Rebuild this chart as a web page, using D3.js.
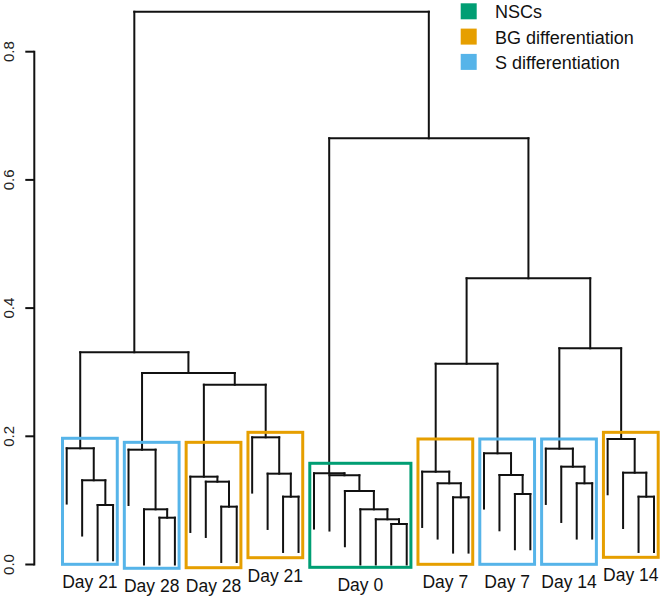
<!DOCTYPE html>
<html>
<head>
<meta charset="utf-8">
<script src="https://cdn.jsdelivr.net/npm/d3@7"></script>
<style>
  html, body { margin: 0; padding: 0; background: #fff; }
  svg { display: block; font-family: "Liberation Sans", Arial, Helvetica, sans-serif; }
</style>
</head>
<body>
<svg id="chart" width="660" height="602"></svg>
<script>
// ---------------- DATA ----------------
const groupLabels = ["Day 21", "Day 28", "Day 28", "Day 21", "Day 0", "Day 7", "Day 7", "Day 14", "Day 14"];
const groupTypes  = ["S", "S", "BG", "BG", "NSC", "BG", "S", "S", "BG"];
const groupSizes  = [4, 4, 4, 4, 7, 4, 4, 4, 4];
// within-group ladder merge heights, top to bottom
const groupHeights = [
  [0.1813, 0.1314, 0.0928],
  [0.1791, 0.0861, 0.0730],
  [0.1370, 0.1292, 0.0902],
  [0.1984, 0.1417, 0.1058],
  [0.1423, 0.1392, 0.1147, 0.0861, 0.0705, 0.0632],
  [0.1448, 0.1267, 0.1048],
  [0.1735, 0.1396, 0.1100],
  [0.1807, 0.1526, 0.1267],
  [0.1958, 0.1432, 0.1058]
];
// merges between groups
const upperIds     = ["L3", "L2", "L1", "RA", "RB", "RC", "R1", "root"];
const upperLeft    = ["g3", "g2", "g1", "g6", "g8", "RA", "g5", "L1"];
const upperRight   = ["g4", "L3", "L2", "g7", "g9", "RB", "RC", "R1"];
const upperHeights = [0.2805, 0.2988, 0.3310, 0.3133, 0.3373, 0.4465, 0.6649, 0.8624];
// annotation boxes around each group (in height units)
const boxTop    = [0.1969, 0.1906, 0.1906, 0.2062, 0.1579, 0.1958, 0.1958, 0.1958, 0.2062];
const boxBottom = [0.0003, -0.0059, -0.0050, 0.0106, -0.0044, 0.0003, 0.0003, 0.0003, 0.0112];
const yTicks = [0.0, 0.2, 0.4, 0.6, 0.8];
const legendKeys   = ["NSC", "BG", "S"];
const legendLabels = ["NSCs", "BG differentiation", "S differentiation"];
const typeColors = { NSC: "#009E73", BG: "#E69F00", S: "#56B4E9" };

// ---------------- BUILD TREE ----------------
const nodes = {};
let leafCounter = 0;
const leafIds = [];
groupSizes.forEach((n, gi) => {
  const leaves = [];
  for (let i = 0; i < n; i++) {
    const id = "s" + (++leafCounter);
    leaves.push({ id, leaf: true, group: gi });
    leafIds.push(id);
  }
  let node = leaves[n - 1];
  for (let i = n - 2; i >= 0; i--) {
    node = { id: "g" + (gi + 1) + "_" + i, children: [leaves[i], node], h: groupHeights[gi][i], group: gi };
  }
  nodes["g" + (gi + 1)] = node;
});
upperIds.forEach((id, i) => {
  nodes[id] = { id, children: [nodes[upperLeft[i]], nodes[upperRight[i]]], h: upperHeights[i] };
});
const rootH = upperHeights[upperHeights.length - 1];
const hang = 0.1 * rootH;

// ---------------- SCALES ----------------
const x = d3.scalePoint().domain(leafIds).range([66.7, 654]);
const y = d3.scaleLinear().domain([0, 0.8]).range([564.5, 51.7]);

const root = d3.hierarchy(nodes["root"]);
root.eachAfter(d => {
  if (!d.children) d.x = x(d.data.id);
  else d.x = (d.children[0].x + d.children[1].x) / 2;
});

const svg = d3.select("#chart");

// ---------------- DENDROGRAM ----------------
const segs = [];
root.each(d => {
  if (d.children) {
    const yy = y(d.data.h);
    segs.push([d.children[0].x, yy, d.children[1].x, yy]);
    d.children.forEach(c => {
      const cy = c.children ? y(c.data.h) : y(Math.max(d.data.h - hang, 0));
      segs.push([c.x, yy, c.x, cy]);
    });
  }
});
svg.append("g").attr("class", "tree")
  .selectAll("line").data(segs).join("line")
  .attr("x1", s => s[0]).attr("y1", s => s[1])
  .attr("x2", s => s[2]).attr("y2", s => s[3])
  .attr("stroke", "#111").attr("stroke-width", 2)
  .attr("stroke-linecap", "square");

// ---------------- BOXES ----------------
const groupRanges = [];
let start = 0;
groupSizes.forEach((n, gi) => {
  groupRanges.push([leafIds[start], leafIds[start + n - 1]]);
  start += n;
});
const boxG = svg.append("g").attr("class", "boxes");
groupRanges.forEach((r, gi) => {
  const x0 = x(r[0]) - 4.2, x1 = x(r[1]) + 4.2;
  const y0 = y(boxTop[gi]), y1 = y(boxBottom[gi]);
  boxG.append("rect")
    .attr("x", x0).attr("y", y0)
    .attr("width", x1 - x0).attr("height", y1 - y0)
    .attr("fill", "none")
    .attr("stroke", typeColors[groupTypes[gi]])
    .attr("stroke-width", 3);
  svg.append("text")
    .attr("x", (x0 + x1) / 2)
    .attr("y", y1 + 24)
    .attr("text-anchor", "middle")
    .attr("font-size", 17.5)
    .attr("fill", "#111")
    .text(groupLabels[gi]);
});

// ---------------- Y AXIS ----------------
const axisX = 34.3;
const ax = svg.append("g").attr("class", "y-axis");
ax.append("line")
  .attr("x1", axisX).attr("x2", axisX)
  .attr("y1", y(yTicks[0])).attr("y2", y(yTicks[yTicks.length - 1]))
  .attr("stroke", "#111").attr("stroke-width", 2).attr("stroke-linecap", "square");
ax.selectAll("line.tick").data(yTicks).join("line")
  .attr("class", "tick")
  .attr("x1", axisX - 9).attr("x2", axisX)
  .attr("y1", d => y(d)).attr("y2", d => y(d))
  .attr("stroke", "#111").attr("stroke-width", 2);
ax.selectAll("text").data(yTicks).join("text")
  .attr("transform", d => `translate(13.5, ${y(d)}) rotate(-90)`)
  .attr("text-anchor", "middle")
  .attr("font-size", 15)
  .attr("fill", "#222")
  .text(d => d3.format(".1f")(d));

// ---------------- LEGEND ----------------
const lg = svg.append("g").attr("class", "legend").attr("transform", "translate(460.7, 3.3)");
legendKeys.forEach((k, i) => {
  lg.append("rect")
    .attr("x", 0).attr("y", i * 25.3)
    .attr("width", 16).attr("height", 16)
    .attr("fill", typeColors[k]);
  lg.append("text")
    .attr("x", 34.3).attr("y", i * 25.3 + 15)
    .attr("font-size", 18)
    .attr("fill", "#111")
    .text(legendLabels[i]);
});
</script>
</body>
</html>
